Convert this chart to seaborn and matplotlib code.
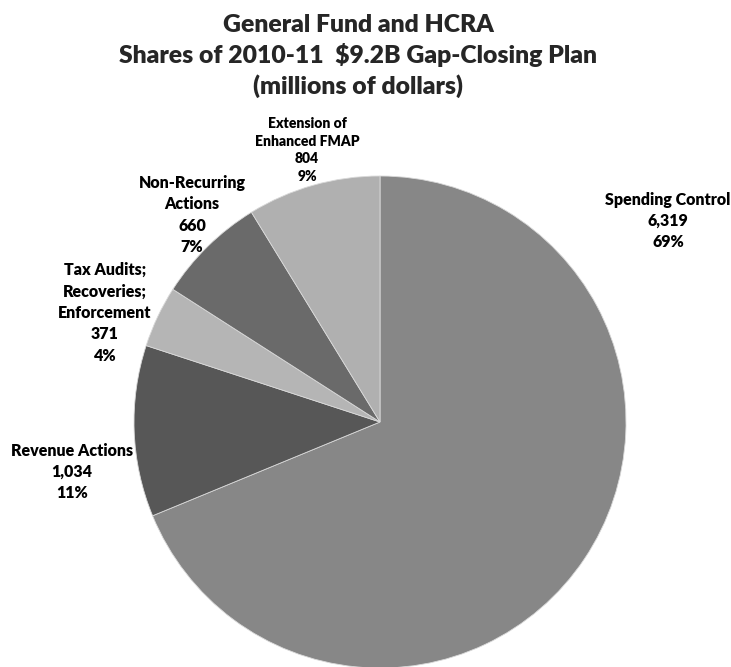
"""Pie chart of the 2010-11 gap-closing plan shares."""

import matplotlib.pyplot as plt
import seaborn as sns

sns.set_style("white")
plt.rcParams["font.family"] = ["Lato", "DejaVu Sans"]

# Data
categories = [
    "Spending Control",
    "Revenue Actions",
    "Tax Audits;\nRecoveries;\nEnforcement",
    "Non-Recurring\nActions",
    "Extension of\nEnhanced FMAP",
]
values = [6319, 1034, 371, 660, 804]
colors = ["#878787", "#575757", "#b5b5b5", "#6a6a6a", "#b0b0b0"]

# label anchor positions in pixels (x, y from top) and font sizes
label_pos = [(668, 221), (72, 472), (105, 313), (192, 215), (307, 150)]
label_size = [11.5, 11.5, 11.5, 11.5, 10]

W, H = 731, 667
fig = plt.figure(figsize=(W / 100, H / 100), dpi=100)
ax = fig.add_axes([0, 0, 1, 1])

ax.pie(
    values,
    colors=colors,
    startangle=90,
    counterclock=False,
    center=(380, H - 422),
    radius=246,
    wedgeprops={"edgecolor": "#d9d9d9", "linewidth": 0.6},
    frame=True,
)
ax.set_xlim(0, W)
ax.set_ylim(0, H)
ax.set_aspect("equal")
ax.axis("off")

total = sum(values)
for cat, val, (px, py), fs in zip(categories, values, label_pos, label_size):
    txt = f"{cat}\n{val:,}\n{round(val / total * 100)}%"
    ax.text(px, H - py, txt, ha="center", va="center", fontsize=fs,
            fontweight="heavy", linespacing=1.42, color="black")

fig.text(0.49, 1 - 56 / H,
         "General Fund and HCRA\nShares of 2010-11  $9.2B Gap-Closing Plan\n(millions of dollars)",
         ha="center", va="center", fontsize=17.8, fontweight="heavy", linespacing=1.36)

plt.savefig("out.png", dpi=100)
plt.close()
